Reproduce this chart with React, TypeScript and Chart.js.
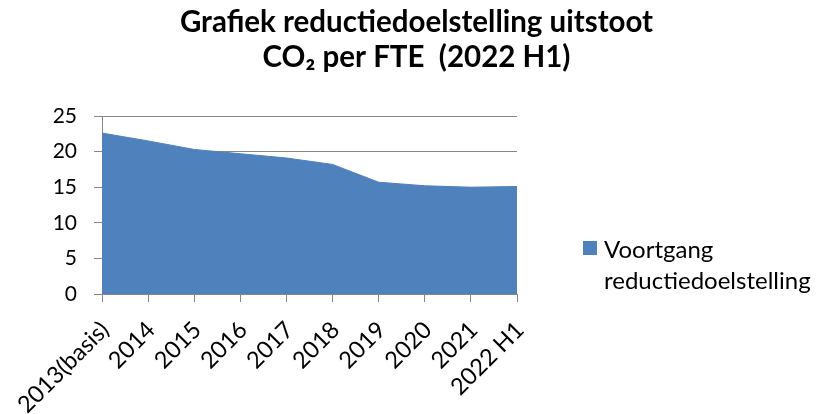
import React, { useEffect, useRef } from 'react';
import { Chart, registerables } from 'chart.js';

Chart.register(...registerables);

const categories = ['2013(basis)', '2014', '2015', '2016', '2017', '2018', '2019', '2020', '2021', '2022 H1'];
const voortgang = [22.6, 21.5, 20.3, 19.7, 19.1, 18.2, 15.7, 15.2, 15.0, 15.1];
const seriesName = 'Voortgang reductiedoelstelling';
const legendLines = ['Voortgang', 'reductiedoelstelling'];
const titleLines = ['Grafiek reductiedoelstelling uitstoot', 'CO₂ per FTE  (2022 H1)'];
const yMin = 0;
const yMax = 25;
const yStep = 5;

const FONT = 'Lato';
const seriesColor = '#4F81BD';
const axisColor = '#868686';

const sideLegend = {
  id: 'sideLegend',
  afterDraw(chart: any) {
    const { ctx, chartArea } = chart;
    const x0 = chartArea.right + 66;
    const y0 = chartArea.top + 125;
    ctx.save();
    ctx.fillStyle = seriesColor;
    ctx.fillRect(x0, y0, 14, 14);
    ctx.fillStyle = '#000';
    ctx.font = `24px ${FONT}`;
    ctx.textBaseline = 'alphabetic';
    ctx.textAlign = 'left';
    ctx.fillText(legendLines[0], x0 + 21, y0 + 17);
    ctx.fillText(legendLines[1], x0 + 21, y0 + 48);
    ctx.restore();
  },
};

export default function App() {
  const ref = useRef<HTMLCanvasElement>(null);
  useEffect(() => {
    const chart = new Chart(ref.current as HTMLCanvasElement, {
      type: 'line',
      data: {
        labels: categories,
        datasets: [
          {
            label: seriesName,
            data: voortgang,
            fill: 'origin',
            backgroundColor: seriesColor,
            borderColor: seriesColor,
            borderWidth: 1,
            pointRadius: 0,
            tension: 0,
          },
        ],
      },
      options: {
        animation: false,
        responsive: true,
        maintainAspectRatio: false,
        layout: { padding: { left: 14, right: 0, top: 0, bottom: 0 } },
        plugins: {
          legend: { display: false },
          tooltip: { enabled: false },
          title: {
            display: true,
            text: titleLines,
            color: '#000',
            font: { family: FONT, size: 29.5, weight: 'bold', lineHeight: '35px' },
            padding: { top: 5, bottom: 41 },
          },
        },
        scales: {
          x: {
            type: 'category',
            offset: false,
            grid: {
              display: true,
              drawOnChartArea: false,
              drawTicks: true,
              tickLength: 8,
              color: axisColor,
              offset: false,
            },
            border: { display: true, color: axisColor },
            ticks: {
              autoSkip: false,
              maxRotation: 45,
              minRotation: 45,
              color: '#000',
              font: { family: FONT, size: 23.5 },
              padding: 14,
              labelOffset: 3,
            },
            afterFit: (s: any) => {
              s.height = 120;
            },
          },
          y: {
            type: 'linear',
            min: yMin,
            max: yMax,
            grid: { color: axisColor, tickLength: 8 },
            border: { display: true, color: axisColor },
            ticks: {
              stepSize: yStep,
              color: '#000',
              font: { family: FONT, size: 21 },
              padding: 17,
            },
            afterFit: (s: any) => {
              s.width = 88;
            },
          },
          y2: {
            type: 'linear',
            position: 'right',
            display: true,
            grid: { display: false },
            border: { display: false },
            ticks: { display: false },
            afterFit: (s: any) => {
              s.width = 302;
            },
          },
        },
      },
      plugins: [sideLegend],
    } as any);
    return () => chart.destroy();
  }, []);
  return (
    <div style={{ position: 'fixed', left: 0, top: 0, width: 819, height: 414, background: '#fff' }}>
      <canvas ref={ref} />
    </div>
  );
}
